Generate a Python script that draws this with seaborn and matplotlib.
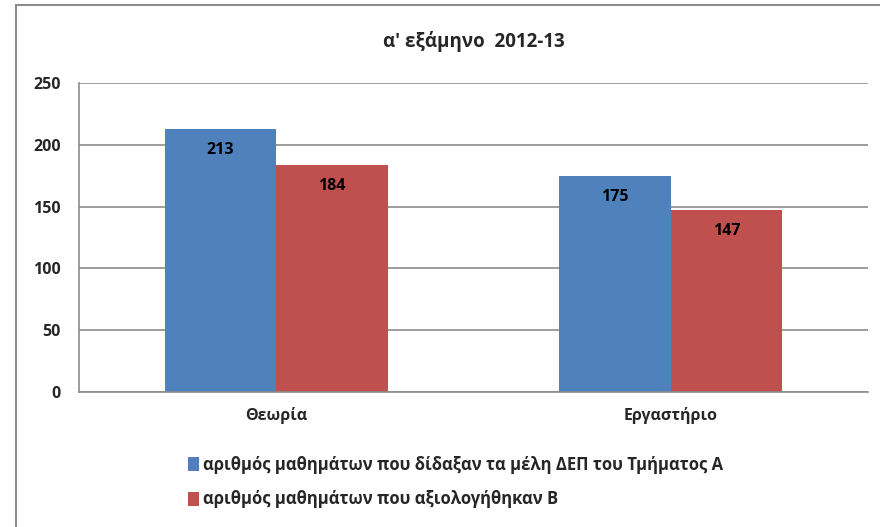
import numpy as np
import pandas as pd
import seaborn as sns
import matplotlib.pyplot as plt
from matplotlib.patches import Rectangle

# Chart data
categories = ["Θεωρία", "Εργαστήριο"]
series_names = ["αριθμός μαθημάτων που δίδαξαν τα μέλη ΔΕΠ του Τμήματος Α",
                "αριθμός μαθημάτων που αξιολογήθηκαν Β"]
taught = [213, 175]
evaluated = [184, 147]
title = "α' εξάμηνο  2012-13"

sns.set_style("white")
plt.rcParams["font.family"] = ["Open Sans", "DejaVu Sans"]

df = pd.DataFrame({
    "category": categories * 2,
    "series": [series_names[0]] * 2 + [series_names[1]] * 2,
    "value": taught + evaluated,
})

fig = plt.figure(figsize=(8.8, 5.27), dpi=100)
ax = fig.add_axes([79 / 880, 1 - 392 / 527, (868 - 79) / 880, (392 - 83) / 527])

sns.barplot(data=df, x="category", y="value", hue="series",
            palette=["#4F81BD", "#C0504D"], width=0.565, gap=0,
            saturation=1, linewidth=0, ax=ax)

for cont in ax.containers:
    ax.bar_label(cont, padding=-21, fontsize=11.5, fontweight="bold", color="black")

ax.set_ylim(0, 250)
ax.set_xlim(-0.5, 1.5)
ax.set_yticks(np.arange(0, 251, 50))
ax.yaxis.grid(True, color="#8c8c8c", linewidth=1.2)
ax.set_axisbelow(True)
ax.set_xlabel("")
ax.set_ylabel("")
ax.set_title(title, fontsize=13.5, fontweight="bold", pad=26)

for s in ["top", "right"]:
    ax.spines[s].set_visible(False)
for s in ["left", "bottom"]:
    ax.spines[s].set_color("#8c8c8c")
    ax.spines[s].set_linewidth(1.2)

ax.tick_params(axis="y", direction="out", length=5, color="#8c8c8c",
               labelsize=11.5, pad=8)
ax.tick_params(axis="x", which="major", length=0, labelsize=11.5, pad=11)
ax.set_xticks([-0.5, 0.5, 1.5], minor=True)
ax.tick_params(axis="x", which="minor", direction="out", length=5, color="#8c8c8c")
for lbl in ax.get_xticklabels() + ax.get_yticklabels():
    lbl.set_fontweight("bold")

leg = ax.legend(loc="upper left", bbox_to_anchor=(102 / 789, -0.185), frameon=False,
                fontsize=12, handlelength=0.7, handleheight=0.9, handletextpad=0.2,
                labelspacing=1.0, borderaxespad=0)
for t in leg.get_texts():
    t.set_fontweight("bold")

# chart area frame
fig.patches.append(Rectangle((16 / 880, -0.1), 1.0, 1 - 5 / 527 + 0.1,
                             transform=fig.transFigure, fill=False,
                             edgecolor="#8c8c8c", linewidth=1.5))

fig.savefig("out.png", dpi=100)
